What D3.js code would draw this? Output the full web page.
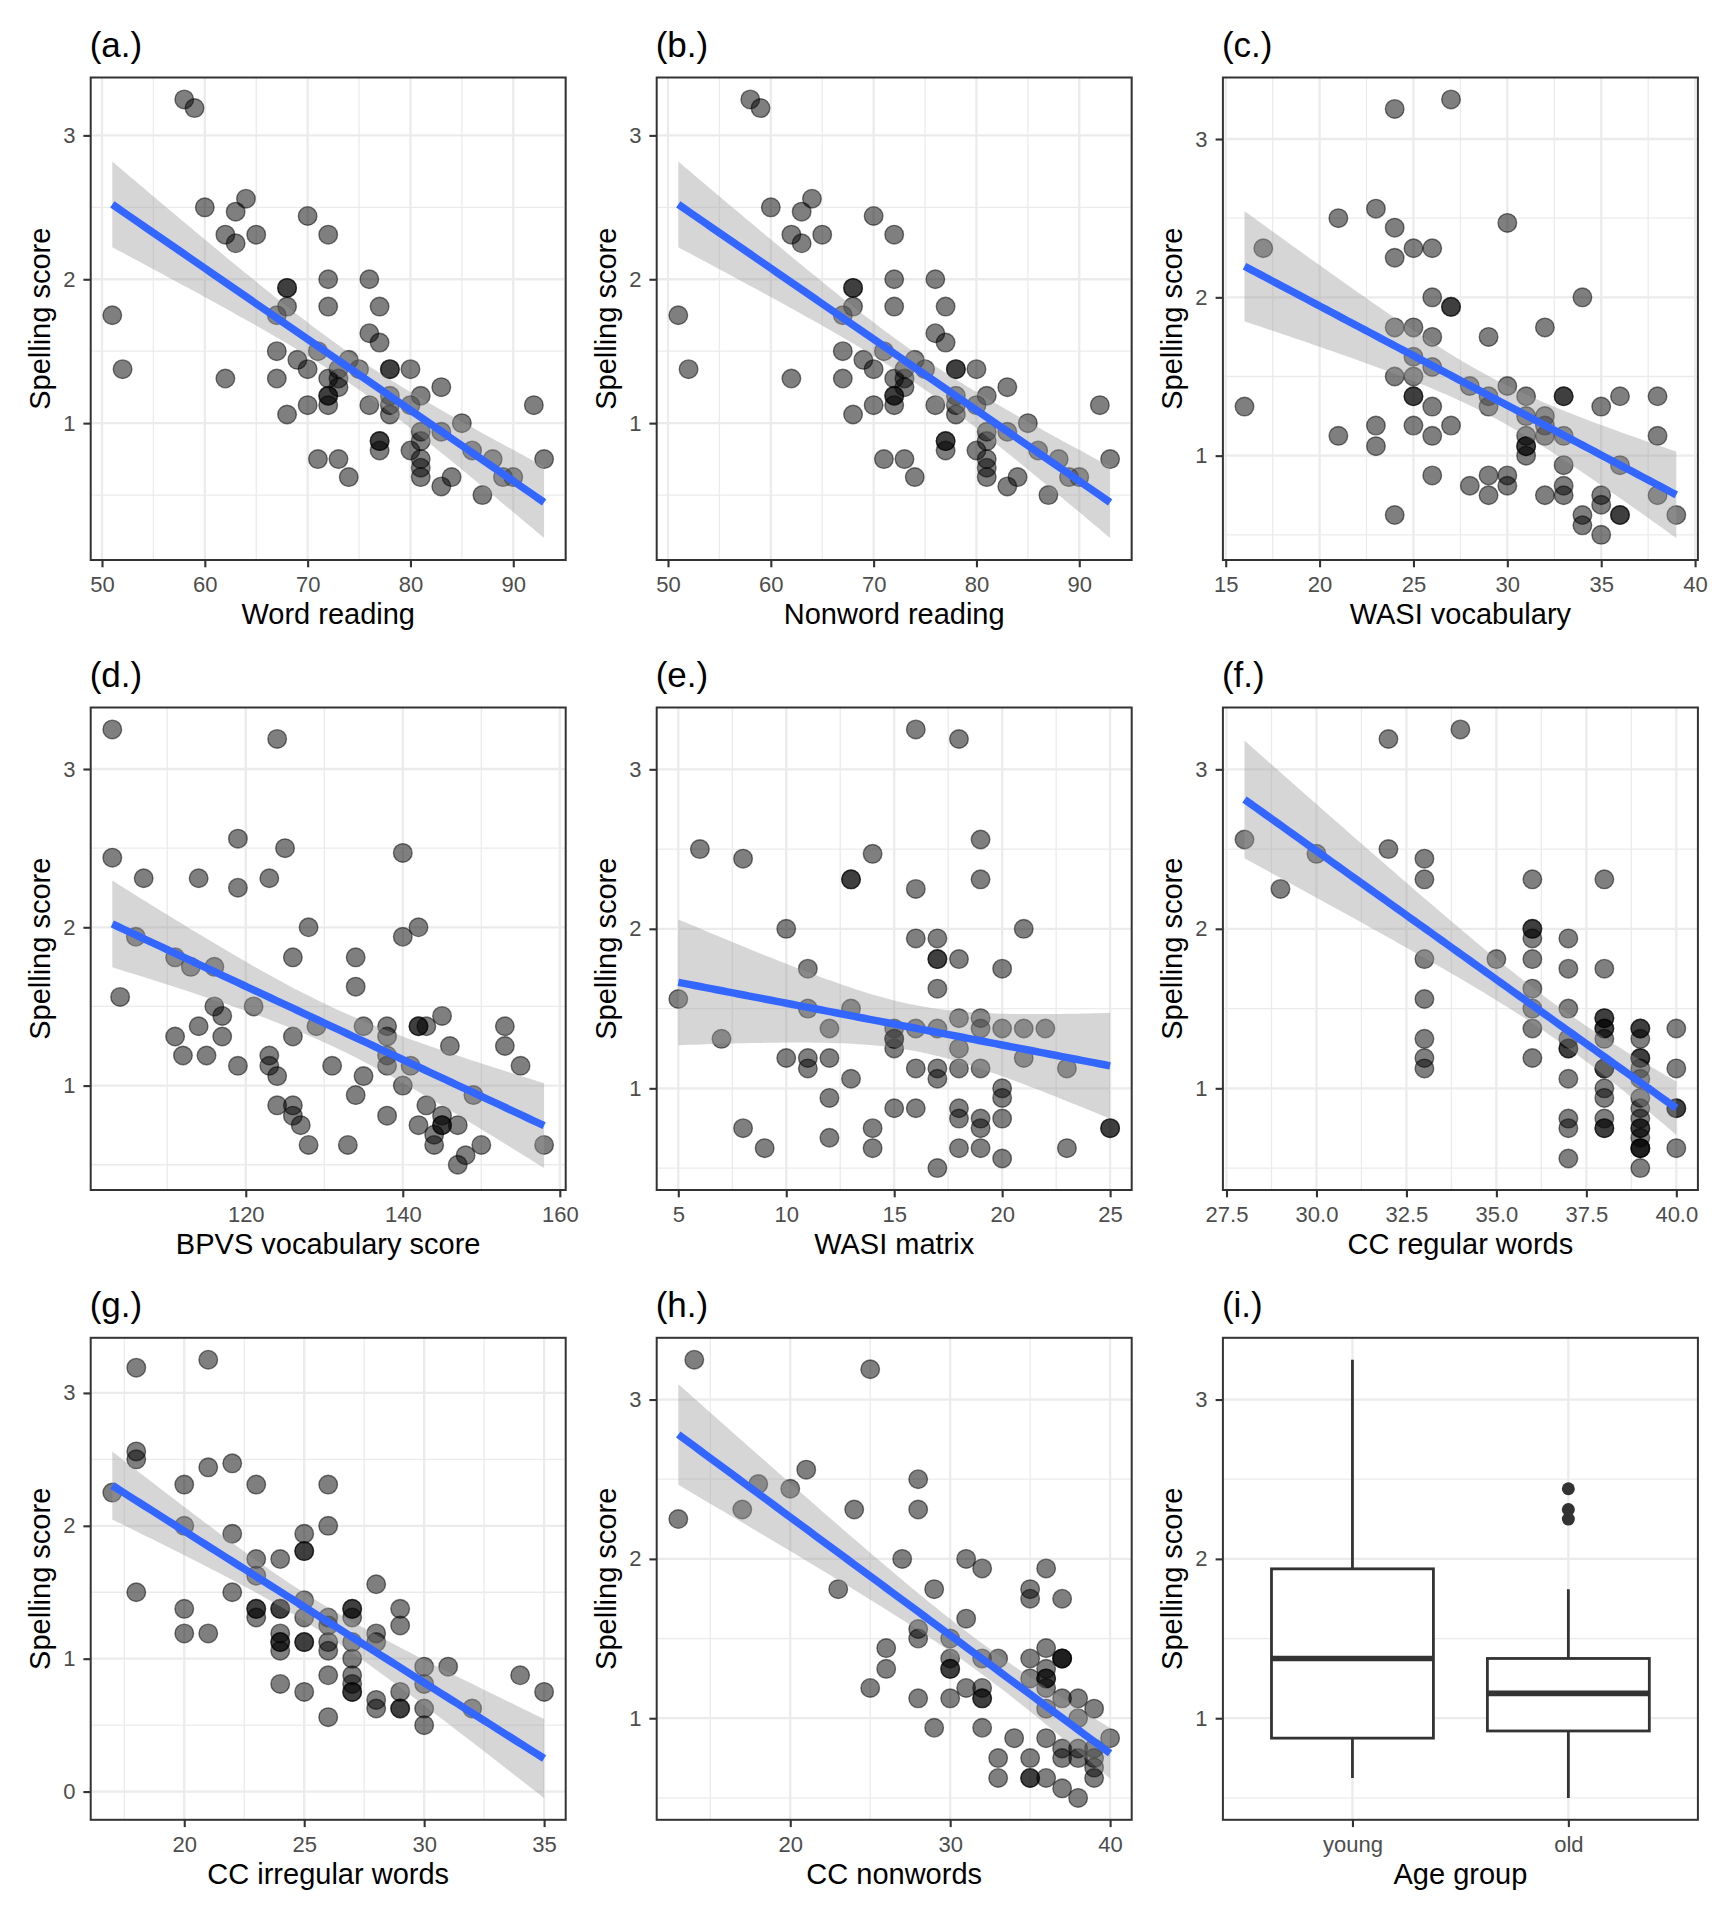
<!DOCTYPE html>
<html><head><meta charset="utf-8">
<script src="https://cdn.jsdelivr.net/npm/d3@7"></script>
<style>
body{margin:0;background:#fff}
svg{display:block}
text{font-family:"Liberation Sans",Arial,Helvetica,sans-serif}
</style>
</head><body>
<svg id="chart" width="1728" height="1920"></svg>
<script>
// ---------------- DATA ----------------
// [predictor score, spelling score]
const wordReading = [[58,3.25],[59,3.19],[51,1.75],[52,1.375],[60,2.5],[63,2.47],[64,2.56],[62,2.31],[63,2.25],[65,2.31],[62,1.31],[68,1.94],[68,1.94],[68,1.81],[67,1.75],[67,1.5],[67,1.31],[68,1.06],[69,1.44],[70,2.44],[70,1.375],[70,1.125],[71,1.5],[71,0.75],[72,2.31],[72,2.0],[72,1.81],[72,1.31],[72,1.19],[72,1.19],[72,1.125],[73,1.375],[73,1.31],[73,1.25],[73,0.75],[74,1.44],[74,0.625],[75,1.375],[76,2.0],[76,1.625],[76,1.125],[77,1.81],[77,1.56],[77,0.875],[77,0.875],[77,0.81],[78,1.375],[78,1.375],[78,1.19],[78,1.125],[78,1.06],[80,1.375],[80,1.125],[80,0.81],[81,1.19],[81,0.94],[81,0.875],[81,0.75],[81,0.69],[81,0.625],[83,1.25],[83,0.94],[83,0.56],[84,0.625],[85,1.0],[86,0.81],[88,0.75],[87,0.5],[89,0.625],[90,0.625],[92,1.125],[93,0.75]];
const nonwordReading = [[58,3.25],[59,3.19],[51,1.75],[52,1.375],[60,2.5],[63,2.47],[64,2.56],[62,2.31],[63,2.25],[65,2.31],[62,1.31],[68,1.94],[68,1.94],[68,1.81],[67,1.75],[67,1.5],[67,1.31],[68,1.06],[69,1.44],[70,2.44],[70,1.375],[70,1.125],[71,1.5],[71,0.75],[72,2.31],[72,2.0],[72,1.81],[72,1.31],[72,1.19],[72,1.19],[72,1.125],[73,1.375],[73,1.31],[73,1.25],[73,0.75],[74,1.44],[74,0.625],[75,1.375],[76,2.0],[76,1.625],[76,1.125],[77,1.81],[77,1.56],[77,0.875],[77,0.875],[77,0.81],[78,1.375],[78,1.375],[78,1.19],[78,1.125],[78,1.06],[80,1.375],[80,1.125],[80,0.81],[81,1.19],[81,0.94],[81,0.875],[81,0.75],[81,0.69],[81,0.625],[83,1.25],[83,0.94],[83,0.56],[84,0.625],[85,1.0],[86,0.81],[88,0.75],[87,0.5],[89,0.625],[90,0.625],[92,1.125],[93,0.75]];
const wasiVocabulary = [[27,3.25],[24,3.19],[16,1.31],[17,2.31],[21,2.5],[21,1.125],[23,2.56],[23,1.19],[23,1.06],[24,2.44],[24,2.25],[24,1.81],[24,1.5],[24,0.625],[25,2.31],[25,1.81],[25,1.625],[25,1.5],[25,1.375],[25,1.375],[25,1.19],[26,2.31],[26,2.0],[26,1.75],[26,1.56],[26,1.31],[26,1.125],[26,0.875],[27,1.94],[27,1.94],[27,1.19],[28,1.44],[28,0.81],[29,1.75],[29,1.375],[29,1.31],[29,0.875],[29,0.75],[30,2.47],[30,1.44],[30,0.875],[30,0.81],[31,1.375],[31,1.25],[31,1.125],[31,1.06],[31,1.06],[31,1.0],[32,1.81],[32,1.25],[32,1.19],[32,1.125],[32,0.75],[33,1.375],[33,1.375],[33,1.125],[33,0.94],[33,0.81],[33,0.75],[34,2.0],[34,0.625],[34,0.56],[35,1.31],[35,0.75],[35,0.69],[35,0.5],[36,1.375],[36,0.94],[36,0.625],[36,0.625],[38,1.375],[38,1.125],[38,0.75],[39,0.625]];
const bpvsVocabulary = [[103,3.25],[124,3.19],[103,2.44],[107,2.31],[114,2.31],[119,2.56],[119,2.25],[123,2.31],[125,2.5],[140,2.47],[128,2.0],[142,2.0],[140,1.94],[106,1.94],[104,1.56],[111,1.81],[113,1.75],[116,1.75],[126,1.81],[134,1.81],[134,1.625],[116,1.5],[117,1.44],[121,1.5],[114,1.375],[111,1.31],[117,1.31],[126,1.31],[112,1.19],[115,1.19],[119,1.125],[123,1.19],[123,1.125],[124,1.06],[124,0.875],[126,0.875],[126,0.81],[127,0.75],[128,0.625],[129,1.375],[131,1.125],[133,0.625],[134,0.94],[135,1.375],[135,1.06],[138,1.375],[138,1.31],[138,1.19],[138,1.125],[138,0.81],[140,1.0],[141,1.125],[142,1.375],[142,1.375],[143,1.375],[142,0.75],[143,0.875],[144,0.69],[144,0.625],[145,1.44],[145,0.81],[145,0.75],[145,0.75],[146,1.25],[147,0.75],[147,0.5],[148,0.56],[149,0.94],[150,0.625],[153,1.375],[153,1.25],[155,1.125],[158,0.625]];
const wasiMatrix = [[16,3.25],[18,3.19],[6,2.5],[8,2.44],[14,2.47],[13,2.31],[13,2.31],[16,2.25],[19,2.56],[19,2.31],[10,2.0],[21,2.0],[16,1.94],[17,1.94],[17,1.81],[17,1.81],[18,1.81],[11,1.75],[20,1.75],[17,1.625],[5,1.56],[11,1.5],[13,1.5],[18,1.44],[19,1.44],[7,1.31],[12,1.375],[15,1.375],[16,1.375],[17,1.375],[19,1.375],[20,1.375],[21,1.375],[22,1.375],[15,1.31],[15,1.31],[15,1.25],[18,1.25],[10,1.19],[11,1.19],[12,1.19],[21,1.19],[11,1.125],[16,1.125],[17,1.125],[18,1.125],[19,1.125],[23,1.125],[13,1.06],[17,1.06],[20,1.0],[20,0.94],[12,0.94],[15,0.875],[16,0.875],[18,0.875],[18,0.81],[19,0.81],[20,0.81],[8,0.75],[14,0.75],[19,0.75],[25,0.75],[25,0.75],[9,0.625],[12,0.69],[14,0.625],[18,0.625],[19,0.625],[23,0.625],[20,0.56],[17,0.5]];
const ccRegularWords = [[34,3.25],[32,3.19],[28,2.56],[30,2.47],[29,2.25],[32,2.5],[33,2.44],[33,2.31],[33,1.81],[33,1.56],[33,1.31],[33,1.19],[33,1.125],[35,1.81],[36,2.31],[36,2.0],[36,2.0],[36,1.94],[36,1.81],[36,1.625],[36,1.5],[36,1.375],[36,1.19],[37,1.94],[37,1.75],[37,1.5],[37,1.31],[37,1.25],[37,1.25],[37,1.06],[37,0.81],[37,0.75],[37,0.56],[38,2.31],[38,1.75],[38,1.44],[38,1.44],[38,1.375],[38,1.375],[38,1.31],[38,1.125],[38,1.125],[38,1.0],[38,0.94],[38,0.81],[38,0.75],[38,0.75],[39,1.375],[39,1.375],[39,1.31],[39,1.19],[39,1.19],[39,1.125],[39,1.06],[39,0.94],[39,0.875],[39,0.81],[39,0.75],[39,0.75],[39,0.69],[39,0.625],[39,0.625],[39,0.625],[39,0.5],[40,1.375],[40,1.125],[40,0.875],[40,0.875],[40,0.625]];
const ccIrregularWords = [[21,3.25],[18,3.19],[18,2.56],[18,2.5],[17,2.25],[20,2.31],[21,2.44],[22,2.47],[23,2.31],[26,2.31],[20,2.0],[26,2.0],[22,1.94],[25,1.94],[25,1.81],[25,1.81],[23,1.75],[24,1.75],[23,1.625],[18,1.5],[22,1.5],[28,1.56],[25,1.44],[20,1.375],[23,1.375],[23,1.375],[23,1.31],[24,1.375],[24,1.375],[25,1.31],[26,1.31],[27,1.375],[27,1.375],[27,1.31],[29,1.375],[29,1.25],[26,1.25],[20,1.19],[21,1.19],[24,1.19],[24,1.125],[24,1.125],[24,1.06],[25,1.125],[25,1.125],[26,1.125],[26,1.06],[27,1.125],[28,1.19],[28,1.125],[27,1.0],[27,0.875],[27,0.81],[27,0.75],[27,0.75],[26,0.875],[24,0.81],[25,0.75],[26,0.56],[28,0.69],[28,0.625],[29,0.75],[29,0.625],[29,0.625],[30,0.94],[30,0.81],[30,0.625],[30,0.5],[31,0.94],[32,0.625],[34,0.875],[35,0.75]];
const ccNonwords = [[14,3.25],[25,3.19],[13,2.25],[17,2.31],[18,2.47],[20,2.44],[21,2.56],[24,2.31],[28,2.5],[28,2.31],[23,1.81],[27,2.0],[29,1.81],[31,2.0],[32,1.94],[35,1.81],[35,1.75],[36,1.94],[37,1.75],[31,1.625],[28,1.56],[28,1.5],[30,1.5],[26,1.44],[26,1.31],[30,1.375],[30,1.31],[30,1.31],[32,1.375],[33,1.375],[35,1.375],[36,1.44],[36,1.31],[36,1.25],[36,1.25],[35,1.25],[37,1.375],[37,1.375],[37,1.375],[25,1.19],[31,1.19],[32,1.19],[32,1.125],[32,1.125],[28,1.125],[30,1.125],[36,1.19],[36,1.06],[37,1.125],[38,1.125],[38,1.0],[39,1.06],[29,0.94],[32,0.94],[34,0.875],[36,0.875],[40,0.875],[37,0.81],[38,0.81],[39,0.81],[33,0.75],[35,0.75],[37,0.75],[38,0.75],[39,0.75],[39,0.69],[33,0.625],[35,0.625],[35,0.625],[36,0.625],[39,0.625],[37,0.56],[38,0.5]];

// boxplot summaries for panel (i)
const ageGroups = ["young", "old"];
const boxLower  = [0.625, 0.5];
const boxQ1     = [0.875, 0.92];
const boxMedian = [1.375, 1.156];
const boxQ3     = [1.9375, 1.375];
const boxUpper  = [3.25, 1.81];
const oldOutliers = [2.44, 2.31, 2.25];

// tick labels
const ticksWordReading = [50, 60, 70, 80, 90];
const ticksWasiVocab = [15, 20, 25, 30, 35, 40];
const ticksBpvs = [120, 140, 160];
const ticksMatrix = [5, 10, 15, 20, 25];
const ticksRegular = [27.5, 30, 32.5, 35, 37.5, 40];
const ticksIrregular = [20, 25, 30, 35];
const ticksNonwords = [20, 30, 40];
const ticksSpelling = [0, 1, 2, 3];

const panelTitles = ["(a.)","(b.)","(c.)","(d.)","(e.)","(f.)","(g.)","(h.)","(i.)"];
const xLabels = ["Word reading","Nonword reading","WASI vocabulary","BPVS vocabulary score","WASI matrix","CC regular words","CC irregular words","CC nonwords","Age group"];
const yLabel = "Spelling score";

// ---------------- LAYOUT ----------------
const svg = d3.select("#chart");
svg.append("rect").attr("width",1728).attr("height",1920).attr("fill","#fff");
const cols = [[90.7,565.7],[656.7,1131.7],[1222.9,1697.9]];
const rows = [[77.5,560],[707.5,1190],[1337.8,1819.8]];
const TICK_FS = 22, TITLE_FS = 29, PTITLE_FS = 35;
const GRID = "#EBEBEB", DARK = "#333333";

function tq(df){ const z=1.959964; return z + (z**3+z)/(4*df) + (5*z**5+16*z**3+3*z)/(96*df*df); }

function minorBreaks(major, dom){
  const step = major[1]-major[0];
  const ext = [major[0]-step, ...major, major[major.length-1]+step];
  const out = [];
  for(let i=0;i<ext.length-1;i++){ const m=(ext[i]+ext[i+1])/2; if(m>=dom[0]&&m<=dom[1]) out.push(m); }
  return out;
}
function expand(e){ const r=e[1]-e[0]; return [e[0]-0.05*r, e[1]+0.05*r]; }

let clipId = 0;
function frame(idx, box, x, y, xTicks, xFmt, xMinor){
  const [x0,x1] = box.x, [y0,y1] = box.y;
  const g = svg.append("g");
  const yDom = y.domain();
  const yTicks = ticksSpelling.filter(v=>v>=yDom[0]&&v<=yDom[1]);
  const yMinor = minorBreaks(ticksSpelling, yDom);
  yMinor.forEach(v=>g.append("line").attr("x1",x0).attr("x2",x1).attr("y1",y(v)).attr("y2",y(v)).attr("stroke",GRID).attr("stroke-width",1.3));
  (xMinor||[]).forEach(v=>g.append("line").attr("y1",y0).attr("y2",y1).attr("x1",x(v)).attr("x2",x(v)).attr("stroke",GRID).attr("stroke-width",1.3));
  yTicks.forEach(v=>g.append("line").attr("x1",x0).attr("x2",x1).attr("y1",y(v)).attr("y2",y(v)).attr("stroke",GRID).attr("stroke-width",2.3));
  xTicks.forEach(v=>g.append("line").attr("y1",y0).attr("y2",y1).attr("x1",x(v)).attr("x2",x(v)).attr("stroke",GRID).attr("stroke-width",2.3));
  const ax = g.append("g").attr("transform",`translate(0,${y1})`)
     .call(d3.axisBottom(x).tickValues(xTicks).tickSize(7.3).tickSizeOuter(0).tickPadding(9.5).tickFormat(xFmt));
  const ay = g.append("g").attr("transform",`translate(${x0},0)`)
     .call(d3.axisLeft(y).tickValues(yTicks).tickSize(7.3).tickSizeOuter(0).tickPadding(8).tickFormat(d3.format("d")));
  [ax,ay].forEach(a=>{
    a.select(".domain").remove();
    a.selectAll(".tick line").attr("stroke",DARK).attr("stroke-width",2.1);
    a.selectAll(".tick text").attr("fill","#4D4D4D").style("font-size",TICK_FS+"px").style("font-family",'"Liberation Sans",Arial,sans-serif');
  });
  g.append("text").attr("x",x0-1).attr("y",y0-21).text(panelTitles[idx]).attr("fill","#000").style("font-size",PTITLE_FS+"px");
  g.append("text").attr("x",(x0+x1)/2).attr("y",y1+64).attr("text-anchor","middle").text(xLabels[idx]).style("font-size",TITLE_FS+"px");
  g.append("text").attr("transform",`translate(${x0-41},${(y0+y1)/2}) rotate(-90)`).attr("text-anchor","middle").text(yLabel).style("font-size",TITLE_FS+"px");
  const id = "clip"+(clipId++);
  svg.append("clipPath").attr("id",id).append("rect").attr("x",x0).attr("y",y0).attr("width",x1-x0).attr("height",y1-y0);
  const data = svg.append("g").attr("clip-path",`url(#${id})`);
  return {g,data};
}
function border(box){
  svg.append("rect").attr("x",box.x[0]).attr("y",box.y[0]).attr("width",box.x[1]-box.x[0]).attr("height",box.y[1]-box.y[0])
    .attr("fill","none").attr("stroke",DARK).attr("stroke-width",2);
}

function scatterPanel(idx, pts, xTicks, xFmt){
  const box = {x: cols[idx%3], y: rows[Math.floor(idx/3)]};
  const n = pts.length;
  const mx = d3.mean(pts,d=>d[0]), my = d3.mean(pts,d=>d[1]);
  let sxx=0, sxy=0;
  pts.forEach(([a,b])=>{ sxx+=(a-mx)**2; sxy+=(a-mx)*(b-my); });
  const slope = sxy/sxx, icpt = my - slope*mx;
  let sse=0; pts.forEach(([a,b])=>{ const r=b-(icpt+slope*a); sse+=r*r; });
  const s = Math.sqrt(sse/(n-2)), t = tq(n-2);
  const xe = d3.extent(pts,d=>d[0]);
  const fit = d3.range(80).map(i=>{
    const xv = xe[0]+(xe[1]-xe[0])*i/79, yh = icpt+slope*xv;
    const se = s*Math.sqrt(1/n + (xv-mx)**2/sxx);
    return {x:xv, y:yh, lo:yh-t*se, hi:yh+t*se};
  });
  const ye = [Math.min(d3.min(pts,d=>d[1]), d3.min(fit,d=>d.lo)), Math.max(d3.max(pts,d=>d[1]), d3.max(fit,d=>d.hi))];
  const x = d3.scaleLinear().domain(expand(xe)).range(box.x);
  const y = d3.scaleLinear().domain(expand(ye)).range([box.y[1], box.y[0]]);
  const {data} = frame(idx, box, x, y, xTicks, xFmt, minorBreaks(xTicks, x.domain()));
  data.selectAll("circle").data(pts).join("circle")
    .attr("cx",d=>x(d[0])).attr("cy",d=>y(d[1])).attr("r",9.3)
    .attr("fill","#000").attr("fill-opacity",0.5)
    .attr("stroke","#000").attr("stroke-opacity",0.5).attr("stroke-width",1.4);
  data.append("path").datum(fit)
    .attr("d", d3.area().x(d=>x(d.x)).y0(d=>y(d.lo)).y1(d=>y(d.hi)))
    .attr("fill","#999999").attr("fill-opacity",0.4);
  data.append("path").datum(fit)
    .attr("d", d3.line().x(d=>x(d.x)).y(d=>y(d.y)))
    .attr("fill","none").attr("stroke","#3366FF").attr("stroke-width",7.5);
  border(box);
}

const fmtInt = d3.format("d"), fmt1 = d3.format(".1f");
scatterPanel(0, wordReading, ticksWordReading, fmtInt);
scatterPanel(1, nonwordReading, ticksWordReading, fmtInt);
scatterPanel(2, wasiVocabulary, ticksWasiVocab, fmtInt);
scatterPanel(3, bpvsVocabulary, ticksBpvs, fmtInt);
scatterPanel(4, wasiMatrix, ticksMatrix, fmtInt);
scatterPanel(5, ccRegularWords, ticksRegular, fmt1);
scatterPanel(6, ccIrregularWords, ticksIrregular, fmtInt);
scatterPanel(7, ccNonwords, ticksNonwords, fmtInt);

// ---- panel (i) boxplot ----
(function(){
  const idx = 8, box = {x: cols[2], y: rows[2]};
  const all = [...boxLower, ...boxUpper, ...oldOutliers];
  const x = d3.scaleLinear().domain([0.4, ageGroups.length+0.6]).range(box.x);
  const y = d3.scaleLinear().domain(expand(d3.extent(all))).range([box.y[1], box.y[0]]);
  const pos = ageGroups.map((_,i)=>i+1);
  const {data} = frame(idx, box, x, y, pos, (d)=>ageGroups[d-1], []);
  const hw = 0.375;
  ageGroups.forEach((grp,i)=>{
    const c = pos[i];
    data.append("line").attr("x1",x(c)).attr("x2",x(c)).attr("y1",y(boxQ3[i])).attr("y2",y(boxUpper[i])).attr("stroke",DARK).attr("stroke-width",2.8);
    data.append("line").attr("x1",x(c)).attr("x2",x(c)).attr("y1",y(boxQ1[i])).attr("y2",y(boxLower[i])).attr("stroke",DARK).attr("stroke-width",2.8);
    data.append("rect").attr("x",x(c-hw)).attr("width",x(c+hw)-x(c-hw)).attr("y",y(boxQ3[i])).attr("height",y(boxQ1[i])-y(boxQ3[i]))
      .attr("fill","#fff").attr("stroke",DARK).attr("stroke-width",2.8);
    data.append("line").attr("x1",x(c-hw)).attr("x2",x(c+hw)).attr("y1",y(boxMedian[i])).attr("y2",y(boxMedian[i])).attr("stroke",DARK).attr("stroke-width",5.6);
  });
  data.selectAll("circle.out").data(oldOutliers).join("circle").attr("class","out")
    .attr("cx",x(2)).attr("cy",d=>y(d)).attr("r",6.5).attr("fill",DARK);
  border(box);
})();
</script>
</body></html>
